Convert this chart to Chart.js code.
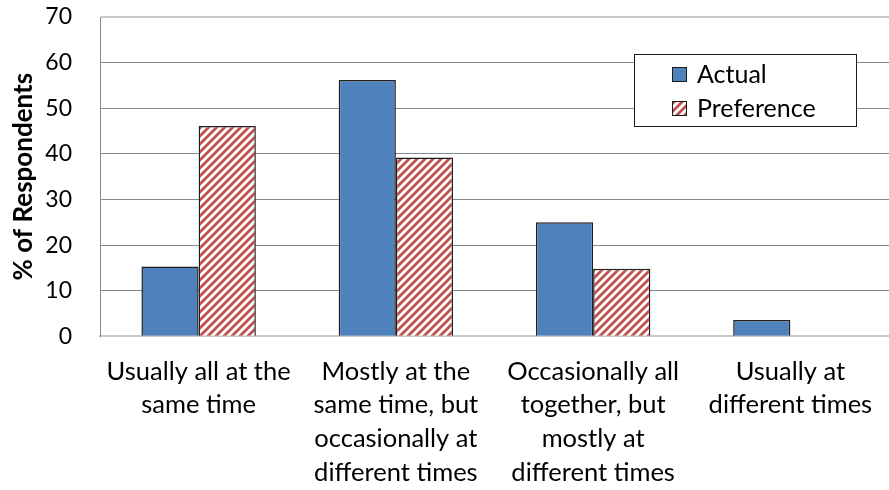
<!DOCTYPE html>
<html>
<head>
<meta charset="utf-8">
<script src="https://cdn.jsdelivr.net/npm/chart.js@4.4.0/dist/chart.umd.min.js"></script>
<style>
  html, body { margin: 0; padding: 0; background: #fff; }
  #wrap { width: 889px; height: 490px; }
</style>
</head>
<body>
<div id="wrap"><canvas id="respChart"></canvas></div>
<script>
// Data
const categories = [
    ['Usually all at the', 'same time'],
    ['Mostly at the', 'same time, but', 'occasionally at', 'different times'],
    ['Occasionally all', 'together, but', 'mostly at', 'different times'],
    ['Usually at', 'different times']
];
const actualValues = [15.3, 56.2, 25.0, 3.6];
const preferenceValues = [46.1, 39.2, 14.8, 0];
const yTicks = [0, 10, 20, 30, 40, 50, 60, 70];

const FONT = 'Lato, "Open Sans", sans-serif';

// Red diagonal hatch for the preference bars
function makeHatch() {
    const c = document.createElement('canvas');
    c.width = 8; c.height = 8;
    const g = c.getContext('2d');
    g.fillStyle = '#fff';
    g.fillRect(0, 0, 8, 8);
    g.strokeStyle = '#C0504D';
    g.lineWidth = 2.8;
    g.beginPath();
    g.moveTo(-2, 10); g.lineTo(10, -2);
    g.moveTo(-6, 6); g.lineTo(6, -6);
    g.moveTo(2, 14); g.lineTo(14, 2);
    g.stroke();
    return g.createPattern(c, 'repeat');
}

document.addEventListener('DOMContentLoaded', function() {
    const ctx = document.getElementById('respChart').getContext('2d');
    const hatch = makeHatch();

    // Boxed legend drawn inside the plot area, top right
    const boxLegend = {
        id: 'boxLegend',
        afterDraw(chart) {
            const g = chart.ctx;
            const a = chart.chartArea;
            const x0 = a.left + 534, y0 = a.top + 37, w = 222, h = 72;
            g.save();
            g.fillStyle = '#fff';
            g.fillRect(x0, y0, w, h);
            g.strokeStyle = '#1a1a1a';
            g.lineWidth = 1;
            g.strokeRect(x0 + 0.5, y0 + 0.5, w, h);
            g.font = '25px ' + FONT;
            g.textBaseline = 'middle';
            chart.data.datasets.forEach((ds, i) => {
                const cy = y0 + 20 + i * 34;
                g.fillStyle = ds.backgroundColor;
                g.fillRect(x0 + 38, cy - 7, 15, 15);
                g.strokeStyle = '#1a1a1a';
                g.strokeRect(x0 + 38.5, cy - 6.5, 14, 14);
                g.fillStyle = '#000';
                g.fillText(ds.label, x0 + 63, cy + 1);
            });
            g.restore();
        }
    };

    new Chart(ctx, {
        type: 'bar',
        data: {
            labels: categories,
            datasets: [
                {
                    label: 'Actual',
                    data: actualValues,
                    backgroundColor: '#4F81BD',
                    borderColor: '#1f1f1f',
                    borderWidth: 1.5,
                    categoryPercentage: 0.58,
                    barPercentage: 1.0
                },
                {
                    label: 'Preference',
                    data: preferenceValues,
                    backgroundColor: hatch,
                    borderColor: '#1f1f1f',
                    borderWidth: 1.5,
                    categoryPercentage: 0.58,
                    barPercentage: 1.0
                }
            ]
        },
        options: {
            responsive: true,
            maintainAspectRatio: false,
            animation: false,
            layout: { padding: { top: 17, right: 0, left: 8, bottom: 0 } },
            plugins: {
                legend: { display: false },
                tooltip: { enabled: false }
            },
            scales: {
                x: {
                    grid: { display: false },
                    border: { color: '#c8c8c8', width: 2 },
                    afterFit: function(axis) {
                        axis.height = axis.height - 10;
                    },
                    ticks: {
                        color: '#000',
                        font: { family: FONT, size: 25.5, lineHeight: 1.33 },
                        maxRotation: 0,
                        autoSkip: false,
                        padding: 10
                    }
                },
                y: {
                    min: 0,
                    max: 70,
                    afterBuildTicks: function(axis) {
                        axis.ticks = yTicks.map(v => ({ value: v }));
                    },
                    afterFit: function(axis) {
                        axis.paddingTop = 0;
                        axis.paddingBottom = 0;
                        axis.width = 92;
                    },
                    grid: {
                        color: c => (c.tick.value === 0 || c.tick.value === 70) ? '#c8c8c8' : '#898989',
                        lineWidth: c => (c.tick.value === 70) ? 2 : 1,
                        drawTicks: false
                    },
                    border: { color: '#898989', width: 1 },
                    ticks: {
                        color: '#000',
                        font: { family: FONT, size: 23 },
                        padding: 28
                    },
                    title: {
                        display: true,
                        text: '% of Respondents',
                        color: '#000',
                        font: { family: FONT, size: 26, weight: 'bold' },
                        padding: { top: 0, bottom: 0 }
                    }
                }
            }
        },
        plugins: [boxLegend]
    });
});
</script>
</body>
</html>
